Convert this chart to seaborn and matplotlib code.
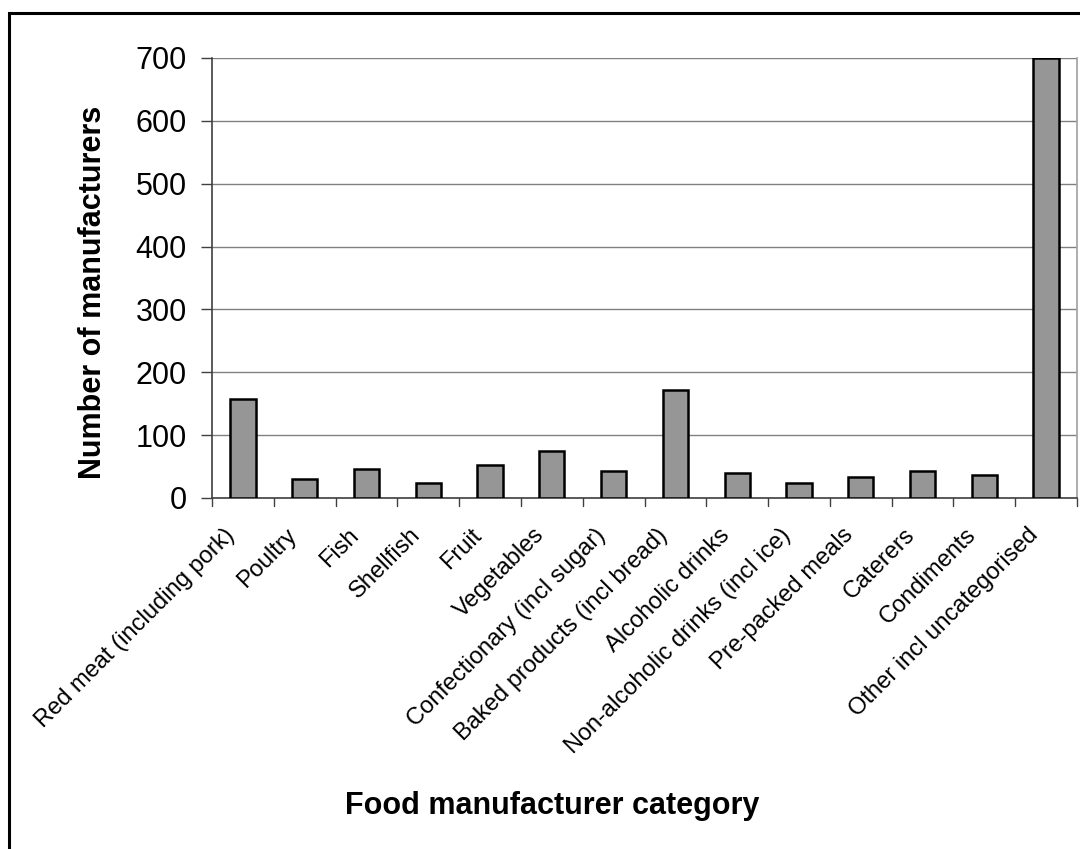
import matplotlib
matplotlib.use("Agg")
import matplotlib.pyplot as plt
import matplotlib.transforms as mtransforms
import seaborn as sns
import pandas as pd
from matplotlib.patches import Rectangle

categories = [
    "Red meat (including pork)", "Poultry", "Fish", "Shellfish", "Fruit",
    "Vegetables", "Confectionary (incl sugar)", "Baked products (incl bread)",
    "Alcoholic drinks", "Non-alcoholic drinks (incl ice)", "Pre-packed meals",
    "Caterers", "Condiments", "Other incl uncategorised",
]
counts = [157, 31, 46, 24, 52, 74, 43, 172, 40, 24, 34, 43, 37, 700]
y_ticks = [0, 100, 200, 300, 400, 500, 600, 700]

df = pd.DataFrame({"category": categories, "count": counts})

sns.set_theme(style="white")
plt.rcParams["font.family"] = ["Liberation Sans", "DejaVu Sans"]
plt.rcParams["text.color"] = "black"
plt.rcParams["xtick.color"] = "black"
plt.rcParams["ytick.color"] = "black"

fig = plt.figure(figsize=(10.8, 8.49), dpi=100)
W, H = 1080, 849
left, right, top, bottom = 212, 1077, 58, 498
ax = fig.add_axes([left / W, 1 - bottom / H, (right - left) / W, (bottom - top) / H])

sns.barplot(data=df, x="category", y="count", ax=ax, color="#969696",
            saturation=1, width=0.41, edgecolor="black", linewidth=1.8, zorder=3)

ax.set_ylim(0, 700)
ax.set_xlim(-0.5, len(categories) - 0.5)
ax.set_yticks(y_ticks)
ax.set_yticklabels([str(t) for t in y_ticks], fontsize=22)
ax.yaxis.grid(True, color="#808080", linewidth=1.0, zorder=0)
ax.xaxis.grid(False)

# rotated category labels, top-right corner tucked just below each bar slot
ax.set_xticks(range(len(categories)))
ax.set_xticklabels(categories, rotation=45, ha="right", va="top",
                   rotation_mode="anchor", fontsize=17)
ax.tick_params(axis="x", length=0, pad=0)
shift = mtransforms.ScaledTranslation(-19 / 100, -26 / 100, fig.dpi_scale_trans)
for lab in ax.get_xticklabels():
    lab.set_transform(lab.get_transform() + shift)

# tick marks on category boundaries along x
for b in [i - 0.5 for i in range(len(categories) + 1)]:
    ax.plot([b, b], [0, -0.018], transform=ax.get_xaxis_transform(),
            color="#404040", linewidth=1.0, clip_on=False)
ax.tick_params(axis="y", direction="out", length=8, width=1.0, color="#404040",
               pad=10, left=True)

ax.spines["top"].set_visible(False)
ax.spines["left"].set_color("#404040")
ax.spines["left"].set_linewidth(1.2)
ax.spines["bottom"].set_color("#404040")
ax.spines["bottom"].set_linewidth(1.2)
ax.spines["right"].set_color("#a0a0a0")
ax.spines["right"].set_linewidth(1.2)

ax.set_xlabel("")
ax.set_ylabel("")
fig.text(93 / W, 1 - 292 / H, "Number of manufacturers", rotation=90,
         ha="center", va="center", fontsize=22, fontweight="bold")
fig.text(552 / W, 1 - 806 / H, "Food manufacturer category",
         ha="center", va="center", fontsize=22, fontweight="bold")

# outer chart frame
fig.patches.append(Rectangle((9 / W, -0.05), 1.2, 1 - 13 / H + 0.05,
                             transform=fig.transFigure, fill=False,
                             edgecolor="black", linewidth=2.2))

fig.savefig("out.png", dpi=100)
